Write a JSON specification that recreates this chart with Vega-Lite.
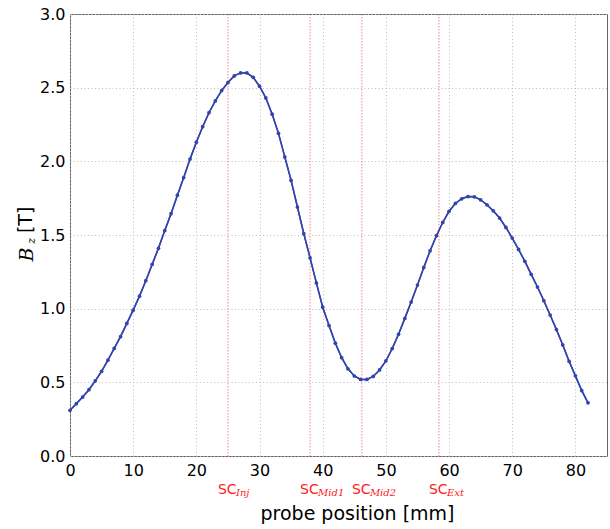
{
  "$schema": "https://vega.github.io/schema/vega-lite/v6.json",
  "width": 537,
  "height": 442,
  "autosize": {"type": "none"},
  "padding": {"left": 70, "top": 14, "right": 3, "bottom": 73},
  "background": "white",
  "config": {
    "view": {"stroke": "#666", "strokeWidth": 1},
    "axis": {"labelFont": "DejaVu Sans", "labelFontSize": 16, "labelColor": "black", "domain": false, "ticks": false, "gridColor": "#bdbdbd", "gridDash": [1, 2.5], "gridWidth": 1, "labelFlush": false, "labelOverlap": false}
  },
  "datasets": {
    "curve": [
      {"pos": 0, "bz": 0.31}, {"pos": 1, "bz": 0.355}, {"pos": 2, "bz": 0.4}, {"pos": 3, "bz": 0.45},
      {"pos": 4, "bz": 0.51}, {"pos": 5, "bz": 0.575}, {"pos": 6, "bz": 0.65}, {"pos": 7, "bz": 0.73},
      {"pos": 8, "bz": 0.81}, {"pos": 9, "bz": 0.9}, {"pos": 10, "bz": 0.99}, {"pos": 11, "bz": 1.085},
      {"pos": 12, "bz": 1.19}, {"pos": 13, "bz": 1.3}, {"pos": 14, "bz": 1.41}, {"pos": 15, "bz": 1.53},
      {"pos": 16, "bz": 1.645}, {"pos": 17, "bz": 1.77}, {"pos": 18, "bz": 1.89}, {"pos": 19, "bz": 2.015},
      {"pos": 20, "bz": 2.13}, {"pos": 21, "bz": 2.235}, {"pos": 22, "bz": 2.33}, {"pos": 23, "bz": 2.41},
      {"pos": 24, "bz": 2.48}, {"pos": 25, "bz": 2.535}, {"pos": 26, "bz": 2.58}, {"pos": 27, "bz": 2.6},
      {"pos": 28, "bz": 2.6}, {"pos": 29, "bz": 2.57}, {"pos": 30, "bz": 2.51}, {"pos": 31, "bz": 2.43},
      {"pos": 32, "bz": 2.32}, {"pos": 33, "bz": 2.19}, {"pos": 34, "bz": 2.03}, {"pos": 35, "bz": 1.87},
      {"pos": 36, "bz": 1.69}, {"pos": 37, "bz": 1.51}, {"pos": 38, "bz": 1.345}, {"pos": 39, "bz": 1.175},
      {"pos": 40, "bz": 1.01}, {"pos": 41, "bz": 0.885}, {"pos": 42, "bz": 0.766}, {"pos": 43, "bz": 0.667},
      {"pos": 44, "bz": 0.592}, {"pos": 45, "bz": 0.543}, {"pos": 46, "bz": 0.52}, {"pos": 47, "bz": 0.52},
      {"pos": 48, "bz": 0.54}, {"pos": 49, "bz": 0.584}, {"pos": 50, "bz": 0.645}, {"pos": 51, "bz": 0.729},
      {"pos": 52, "bz": 0.826}, {"pos": 53, "bz": 0.934}, {"pos": 54, "bz": 1.045}, {"pos": 55, "bz": 1.16},
      {"pos": 56, "bz": 1.28}, {"pos": 57, "bz": 1.393}, {"pos": 58, "bz": 1.495}, {"pos": 59, "bz": 1.585},
      {"pos": 60, "bz": 1.661}, {"pos": 61, "bz": 1.714}, {"pos": 62, "bz": 1.746}, {"pos": 63, "bz": 1.761},
      {"pos": 64, "bz": 1.759}, {"pos": 65, "bz": 1.739}, {"pos": 66, "bz": 1.705}, {"pos": 67, "bz": 1.664},
      {"pos": 68, "bz": 1.615}, {"pos": 69, "bz": 1.551}, {"pos": 70, "bz": 1.479}, {"pos": 71, "bz": 1.402},
      {"pos": 72, "bz": 1.321}, {"pos": 73, "bz": 1.233}, {"pos": 74, "bz": 1.147}, {"pos": 75, "bz": 1.054},
      {"pos": 76, "bz": 0.957}, {"pos": 77, "bz": 0.858}, {"pos": 78, "bz": 0.754}, {"pos": 79, "bz": 0.643},
      {"pos": 80, "bz": 0.544}, {"pos": 81, "bz": 0.444}, {"pos": 82, "bz": 0.361}
    ],
    "sc": [
      {"pos": 25, "name": "SC", "sub": "Inj"},
      {"pos": 38, "name": "SC", "sub": "Mid1"},
      {"pos": 46.2, "name": "SC", "sub": "Mid2"},
      {"pos": 58.4, "name": "SC", "sub": "Ext"}
    ],
    "ytitle": [{"b": "B", "z": "z", "u": "[T]"}]
  },
  "layer": [
    {
      "data": {"name": "curve"},
      "mark": {"type": "line", "color": "#3344aa", "strokeWidth": 1.5},
      "encoding": {
        "x": {"field": "pos", "type": "quantitative", "scale": {"domain": [0, 85], "nice": false},
          "axis": {"values": [0, 10, 20, 30, 40, 50, 60, 70, 80], "format": "d", "grid": true, "labelPadding": 6,
            "title": "probe position [mm]", "titleFont": "DejaVu Sans", "titleFontSize": 19, "titleFontWeight": "normal", "titleColor": "black",
            "titleX": 287, "titleY": 63, "titleAnchor": null, "titleAlign": "center", "titleBaseline": "alphabetic"}},
        "y": {"field": "bz", "type": "quantitative", "scale": {"domain": [0, 3], "nice": false},
          "axis": {"values": [0, 0.5, 1, 1.5, 2, 2.5, 3], "format": ".1f", "grid": true, "labelPadding": 5, "title": null}}
      }
    },
    {
      "data": {"name": "sc"},
      "mark": {"type": "rule", "color": "#ff3030", "strokeDash": [1.5, 1.5], "strokeWidth": 1, "opacity": 0.6},
      "encoding": {
        "x": {"field": "pos", "type": "quantitative", "scale": {"domain": [0, 85], "nice": false}}
      }
    },
    {
      "data": {"name": "curve"},
      "mark": {"type": "line", "color": "#3344aa", "strokeWidth": 1.5},
      "encoding": {
        "x": {"field": "pos", "type": "quantitative", "scale": {"domain": [0, 85], "nice": false}},
        "y": {"field": "bz", "type": "quantitative", "scale": {"domain": [0, 3], "nice": false}}
      }
    },
    {
      "data": {"name": "curve"},
      "mark": {"type": "circle", "color": "#3344aa", "size": 14, "opacity": 1},
      "encoding": {
        "x": {"field": "pos", "type": "quantitative", "scale": {"domain": [0, 85], "nice": false}},
        "y": {"field": "bz", "type": "quantitative", "scale": {"domain": [0, 3], "nice": false}}
      }
    },
    {
      "data": {"name": "sc"},
      "mark": {"type": "text", "color": "#ff2020", "font": "DejaVu Sans", "fontSize": 14, "align": "left", "baseline": "alphabetic", "dx": -10, "dy": 37.5},
      "encoding": {
        "x": {"field": "pos", "type": "quantitative", "scale": {"domain": [0, 85], "nice": false}},
        "y": {"datum": 0, "type": "quantitative", "scale": {"domain": [0, 3], "nice": false}},
        "text": {"field": "name"}
      }
    },
    {
      "data": {"name": "sc"},
      "mark": {"type": "text", "color": "#ff2020", "font": "DejaVu Serif", "fontStyle": "italic", "fontSize": 10, "align": "left", "baseline": "alphabetic", "dx": 8, "dy": 40},
      "encoding": {
        "x": {"field": "pos", "type": "quantitative", "scale": {"domain": [0, 85], "nice": false}},
        "y": {"datum": 0, "type": "quantitative", "scale": {"domain": [0, 3], "nice": false}},
        "text": {"field": "sub"}
      }
    },
    {
      "data": {"name": "ytitle"},
      "mark": {"type": "text", "color": "black", "font": "DejaVu Serif", "fontStyle": "italic", "fontSize": 19, "align": "left", "baseline": "alphabetic", "angle": 270},
      "encoding": {
        "x": {"datum": -5.8, "type": "quantitative", "scale": {"domain": [0, 85], "nice": false}},
        "y": {"datum": 1.32, "type": "quantitative", "scale": {"domain": [0, 3], "nice": false}},
        "text": {"field": "b"}
      }
    },
    {
      "data": {"name": "ytitle"},
      "mark": {"type": "text", "color": "black", "font": "DejaVu Serif", "fontStyle": "italic", "fontSize": 11, "align": "left", "baseline": "alphabetic", "angle": 270},
      "encoding": {
        "x": {"datum": -5.6, "type": "quantitative", "scale": {"domain": [0, 85], "nice": false}},
        "y": {"datum": 1.44, "type": "quantitative", "scale": {"domain": [0, 3], "nice": false}},
        "text": {"field": "z"}
      }
    },
    {
      "data": {"name": "ytitle"},
      "mark": {"type": "text", "color": "black", "font": "DejaVu Sans", "fontSize": 19, "align": "left", "baseline": "alphabetic", "angle": 270},
      "encoding": {
        "x": {"datum": -6.0, "type": "quantitative", "scale": {"domain": [0, 85], "nice": false}},
        "y": {"datum": 1.513, "type": "quantitative", "scale": {"domain": [0, 3], "nice": false}},
        "text": {"field": "u"}
      }
    }
  ]
}
